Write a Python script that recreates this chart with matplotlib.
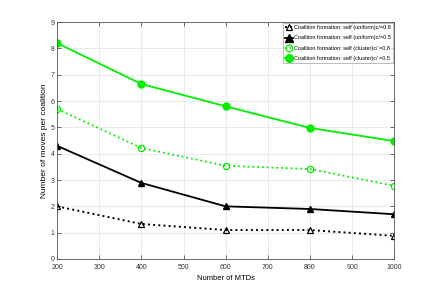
import matplotlib
matplotlib.use('Agg')
import matplotlib.pyplot as plt
from matplotlib import font_manager

names = {f.name for f in font_manager.fontManager.ttflist}
fam = 'Liberation Sans Narrow' if 'Liberation Sans Narrow' in names else 'Liberation Sans'
plt.rcParams['font.family'] = [fam, 'DejaVu Sans']

# data
mtds = [200, 400, 600, 800, 1000]
uniform_08 = [2.0, 1.33, 1.1, 1.1, 0.88]
uniform_05 = [4.3, 2.89, 2.0, 1.9, 1.7]
cluster_08 = [5.7, 4.22, 3.54, 3.42, 2.78]
cluster_05 = [8.2, 6.65, 5.8, 4.98, 4.48]
labels = ['Coalition formation: self (uniform)c/=0.8',
          'Coalition formation: self (uniform)c/=0.5',
          'Coalition formation: self (cluster)c/ =0.8',
          'Coalition formation: self (cluster)c/ =0.5']

green = '#00ee00'
fig = plt.figure(figsize=(4.36, 2.91), dpi=100)
ax = fig.add_axes([0.131, 0.110, 0.773, 0.814])

ax.plot(mtds, uniform_08, color='black', ls=':', lw=1.4, marker='^', mfc='none', ms=4.5, mew=0.9, label=labels[0])
ax.plot(mtds, uniform_05, color='black', ls='-', lw=1.3, marker='^', ms=5, label=labels[1])
ax.plot(mtds, cluster_08, color=green, ls=':', lw=1.3, marker='o', mfc='none', ms=4.5, mew=0.9, label=labels[2])
ax.plot(mtds, cluster_05, color=green, ls='-', lw=1.3, marker='o', ms=5, label=labels[3])

ax.set_xlim(200, 1000)
ax.set_ylim(0, 9)
ax.set_xticks(range(200, 1001, 100))
ax.set_yticks(range(0, 10))
ax.grid(True, color='#e6e6e6', lw=0.6)
ax.tick_params(direction='in', labelsize=5, length=3, width=0.5, colors='#333333', top=True, right=True)
ax.tick_params(axis='x', pad=3.5)
ax.tick_params(axis='y', pad=2)
for s in ax.spines.values():
    s.set_linewidth(0.6)
    s.set_color('#555555')
ax.set_xlabel('Number of MTDs', fontsize=5.5, labelpad=3)
ax.set_ylabel('Number of moves per coalition', fontsize=6, labelpad=2)

leg = ax.legend(loc='upper right', fontsize=4.0, frameon=True, fancybox=False,
                edgecolor='#888888', borderpad=0.4, labelspacing=0.95,
                handlelength=1.4, handletextpad=0.2, borderaxespad=0.15,
                markerscale=1.1)
leg.get_frame().set_linewidth(0.5)

fig.savefig('out.png', dpi=100)
